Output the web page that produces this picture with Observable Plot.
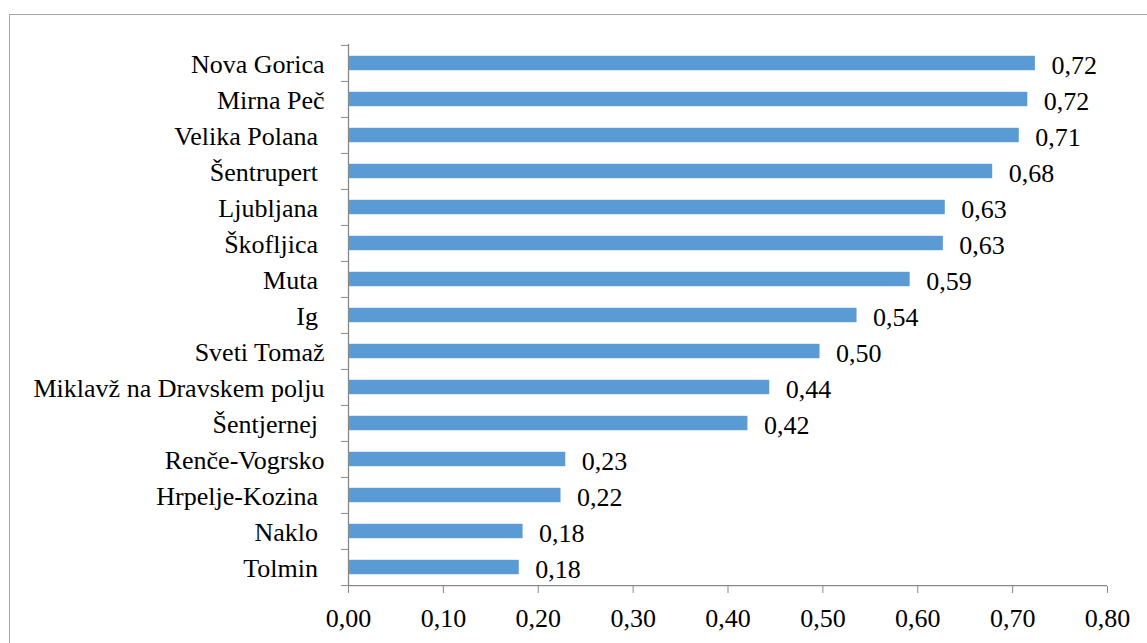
<!DOCTYPE html>
<html>
<head>
<meta charset="utf-8">
<script src="https://cdn.jsdelivr.net/npm/d3@7"></script>
<script src="https://cdn.jsdelivr.net/npm/@observablehq/plot@0.6"></script>
<style>
  body { margin: 0; background: #fff; }
  #wrap { position: relative; width: 1147px; height: 643px; overflow: hidden; background: #fff; }
  #border { position: absolute; left: 9px; top: 14px; width: 1300px; height: 800px;
            border-left: 1.5px solid #a5a5a5; border-top: 1.5px solid #a5a5a5; }
  #chart { position: absolute; left: 0; top: 0; }
  #chart svg text { white-space: pre; }
</style>
</head>
<body>
<div id="wrap">
  <div id="border"></div>
  <div id="chart"></div>
</div>
<script>
// Municipalities (top to bottom) and their index values
const municipalities = [
  "Nova Gorica", "Mirna Peč", "Velika Polana ", "Šentrupert ", "Ljubljana ",
  "Škofljica ", "Muta ", "Ig ", "Sveti Tomaž", "Miklavž na Dravskem polju",
  "Šentjernej ", "Renče-Vogrsko", "Hrpelje-Kozina ", "Naklo ", "Tolmin "
];
const values = [
  0.724, 0.716, 0.707, 0.679, 0.629,
  0.627, 0.592, 0.536, 0.497, 0.444,
  0.421, 0.229, 0.224, 0.184, 0.180
];
const xTicks = [0, 0.1, 0.2, 0.3, 0.4, 0.5, 0.6, 0.7, 0.8];

// Pick the first installed Times-like face (checked by text metrics)
function pickSerif() {
  const candidates = ["Liberation Serif", "Times New Roman", "Tinos", "Nimbus Roman", "FreeSerif", "Noto Serif", "DejaVu Serif"];
  const ctx = document.createElement("canvas").getContext("2d");
  const sample = "Miklavž na Dravskem polju 0,72 WMil";
  const width = (f) => { ctx.font = f; return ctx.measureText(sample).width; };
  const mono = width("26px monospace"), sans = width("26px sans-serif");
  for (const name of candidates) {
    const a = width(`26px "${name}", monospace`), b = width(`26px "${name}", sans-serif`);
    if (a !== mono || b !== sans) return `"${name}", serif`;
  }
  return "serif";
}
const fontFamily = pickSerif();

const data = municipalities.map((name, i) => ({name, value: values[i]}));
const fmt = (v) => v.toFixed(2).replace(".", ",");

const W = 1147, H = 643;
const mTop = 44, mBottom = 57, mLeft = 348, mRight = 40;
const step = (H - mTop - mBottom) / municipalities.length;
const grey = "#898989";

const plot = Plot.plot({
  width: W,
  height: H,
  marginTop: mTop,
  marginBottom: mBottom,
  marginLeft: mLeft,
  marginRight: mRight,
  style: {fontFamily, fontSize: "26px", color: "#000", background: "transparent"},
  x: {domain: [0, 0.8], label: null},
  y: {domain: municipalities, padding: 0, label: null},
  marks: [
    Plot.barX(data, {x: "value", y: "name", fill: "#5b9bd5", insetTop: 10.8, insetBottom: 10.8}),
    Plot.text(data, {x: "value", y: "name", text: (d) => fmt(d.value), textAnchor: "start", dx: 16, dy: 2, fill: "#000", fontFamily}),
    // axis lines
    Plot.ruleX([0], {stroke: grey, strokeWidth: 1.3}),
    Plot.ruleY([municipalities[municipalities.length - 1]], {dy: step / 2, stroke: grey, strokeWidth: 1.3}),
    // category labels
    Plot.axisY({tickSize: 0, tickPadding: 24, label: null, fill: "#000", dy: 1, fontFamily}),
    // tick marks at category boundaries
    Plot.axisY({tickSize: 7, tickFormat: () => "", label: null, stroke: grey, dy: -step / 2}),
    Plot.axisY({ticks: [municipalities[municipalities.length - 1]], tickSize: 7, tickFormat: () => "", label: null, stroke: grey, dy: step / 2}),
    // value axis
    Plot.axisX({ticks: xTicks, tickFormat: fmt, tickSize: 7, tickPadding: 15, label: null, stroke: grey, fill: "#000", fontFamily})
  ]
});
document.getElementById("chart").append(plot);
</script>
</body>
</html>
